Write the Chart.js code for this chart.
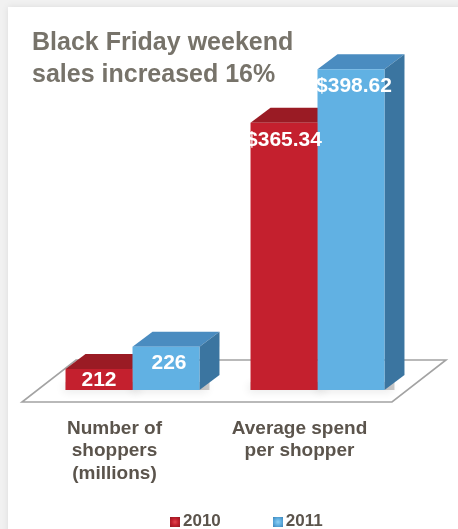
<!DOCTYPE html>
<html lang="en">
<head>
  <meta charset="UTF-8">
  <title>Black Friday weekend</title>
  <style>
    body {
        margin: 0;
        background: #f1f1f1;
        font-family: 'Liberation Sans', Arial, sans-serif;
    }
    .wrap {
        position: relative;
        width: 458px;
        height: 529px;
        overflow: hidden;
    }
    .card {
        position: absolute;
        left: 8px;
        top: 7px;
        width: 480px;
        height: 540px;
        background: #fff;
        box-shadow: 0 0 7px rgba(0, 0, 0, 0.09);
    }
    .chart-box {
        position: absolute;
        left: 0;
        top: 0;
        width: 458px;
        height: 529px;
    }
    .title {
        position: absolute;
        left: 32px;
        top: 25px;
        font-size: 25px;
        font-weight: bold;
        line-height: 32px;
        color: #77736a;
    }
    .legend {
        position: absolute;
        left: 170px;
        top: 511px;
        display: flex;
        font-size: 17px;
        font-weight: bold;
        line-height: 20px;
        color: #5b544c;
    }
    .legend .item {
        display: flex;
        align-items: flex-end;
        margin-right: 52px;
    }
    .legend .box {
        width: 10px;
        height: 10px;
        margin: 0 3px 4px 0;
    }
  </style>
</head>
<body>
  <div class="wrap">
    <div class="card"></div>
    <div class="chart-box"><canvas id="salesChart"></canvas></div>
    <div class="title">Black Friday weekend<br>sales increased 16%</div>
    <div class="legend" id="legend"></div>
  </div>

  <script src="https://cdn.jsdelivr.net/npm/chart.js"></script>
  <script>
    const categories = [['Number of', 'shoppers', '(millions)'], ['Average spend', 'per shopper']];
    const years = ['2010', '2011'];
    const values2010 = [212, 365.34];
    const values2011 = [226, 398.62];
    const valuePrefix = ['', '$'];
    const valueDecimals = [0, 2];

    // value axis is cut off below the bars
    const Y_MIN = 199, Y_MAX = 420;

    // depth of the bar blocks and of the floor plate
    const DEPTH_X = 20, DEPTH_Y = 15;
    const FLOOR_X = 54, FLOOR_Y = 42;

    const bars3d = {
      id: 'bars3d',
      beforeDatasetsDraw(chart) {
        const { ctx, chartArea } = chart;
        const bottom = chart.scales.y.getPixelForValue(Y_MIN);

        // floor
        const fl = chartArea.left - 18, fr = chartArea.right - 18, fy = bottom + 12;
        ctx.save();
        ctx.beginPath();
        ctx.moveTo(fl, fy);
        ctx.lineTo(fr, fy);
        ctx.lineTo(fr + FLOOR_X, fy - FLOOR_Y);
        ctx.lineTo(fl + FLOOR_X, fy - FLOOR_Y);
        ctx.closePath();
        ctx.fillStyle = '#fff';
        ctx.fill();
        ctx.strokeStyle = '#a3a3a3';
        ctx.lineWidth = 1.6;
        ctx.stroke();

        chart.data.datasets.forEach((ds, i) => {
          chart.getDatasetMeta(i).data.forEach(bar => {
            const { x, y, base, width } = bar.getProps(['x', 'y', 'base', 'width'], true);
            const l = x - width / 2, r = x + width / 2;

            // soft shadow under the block
            ctx.save();
            ctx.shadowColor = 'rgba(0, 0, 0, 0.45)';
            ctx.shadowBlur = 8;
            ctx.shadowOffsetX = -2;
            ctx.shadowOffsetY = 2;
            ctx.fillStyle = 'rgba(0, 0, 0, 0.2)';
            ctx.fillRect(l, base - 8, width + DEPTH_X / 2, 8);
            ctx.restore();

            // top face
            ctx.beginPath();
            ctx.moveTo(l, y);
            ctx.lineTo(l + DEPTH_X, y - DEPTH_Y);
            ctx.lineTo(r + DEPTH_X, y - DEPTH_Y);
            ctx.lineTo(r, y);
            ctx.closePath();
            ctx.fillStyle = ds.topColor;
            ctx.fill();

            // side face
            ctx.beginPath();
            ctx.moveTo(r, y);
            ctx.lineTo(r + DEPTH_X, y - DEPTH_Y);
            ctx.lineTo(r + DEPTH_X, base - DEPTH_Y);
            ctx.lineTo(r, base);
            ctx.closePath();
            ctx.fillStyle = ds.sideColor;
            ctx.fill();
          });
        });
        ctx.restore();
      },
      afterDatasetsDraw(chart) {
        const { ctx } = chart;
        ctx.save();
        ctx.font = 'bold 21px "Liberation Sans", Arial, sans-serif';
        ctx.fillStyle = '#fff';
        ctx.textAlign = 'center';
        ctx.textBaseline = 'middle';
        chart.data.datasets.forEach((ds, i) => {
          chart.getDatasetMeta(i).data.forEach((bar, j) => {
            const { x, y, base } = bar.getProps(['x', 'y', 'base'], true);
            const text = valuePrefix[j] + ds.data[j].toFixed(valueDecimals[j]);
            ctx.fillText(text, x + i * 3, Math.min(y + 17, (y + base) / 2 + 1));
          });
        });
        ctx.restore();
      }
    };

    const chart = new Chart(document.getElementById('salesChart'), {
      type: 'bar',
      data: {
        labels: categories,
        datasets: [
          {
            label: years[0],
            data: values2010,
            backgroundColor: '#c4202e',
            topColor: '#9a1b24',
            sideColor: '#7d161d',
            legendLight: '#e2454f',
            legendDark: '#8e1820'
          },
          {
            label: years[1],
            data: values2011,
            backgroundColor: '#61b1e3',
            topColor: '#4a8cc0',
            sideColor: '#3b75a0',
            legendLight: '#8fd0f2',
            legendDark: '#3d84b8'
          }
        ]
      },
      options: {
        responsive: true,
        maintainAspectRatio: false,
        animation: false,
        layout: { padding: { left: 40, right: 48, top: 35, bottom: 0 } },
        datasets: {
          bar: { categoryPercentage: 0.724, barPercentage: 1.0, borderWidth: 0, base: Y_MIN }
        },
        scales: {
          x: {
            grid: { display: false, drawTicks: false },
            border: { display: false },
            ticks: {
              color: '#5b544c',
              font: { family: "'Liberation Sans', Arial, sans-serif", size: 19, weight: 'bold', lineHeight: 1.2 },
              padding: 27,
              labelOffset: -18,
              maxRotation: 0,
              autoSkip: false
            },
            afterFit: scale => { scale.height = 139; }
          },
          y: {
            display: false,
            min: Y_MIN,
            max: Y_MAX
          }
        },
        plugins: {
          legend: { display: false },
          tooltip: { enabled: false }
        }
      },
      plugins: [bars3d]
    });

    // legend below the plot
    const legendEl = document.getElementById('legend');
    chart.data.datasets.forEach(ds => {
      const item = document.createElement('div');
      item.className = 'item';
      const box = document.createElement('span');
      box.className = 'box';
      box.style.background = `radial-gradient(circle, ${ds.legendLight} 0%, ${ds.backgroundColor} 45%, ${ds.legendDark} 100%)`;
      const text = document.createElement('span');
      text.textContent = ds.label;
      item.appendChild(box);
      item.appendChild(text);
      legendEl.appendChild(item);
    });
  </script>
</body>
</html>
